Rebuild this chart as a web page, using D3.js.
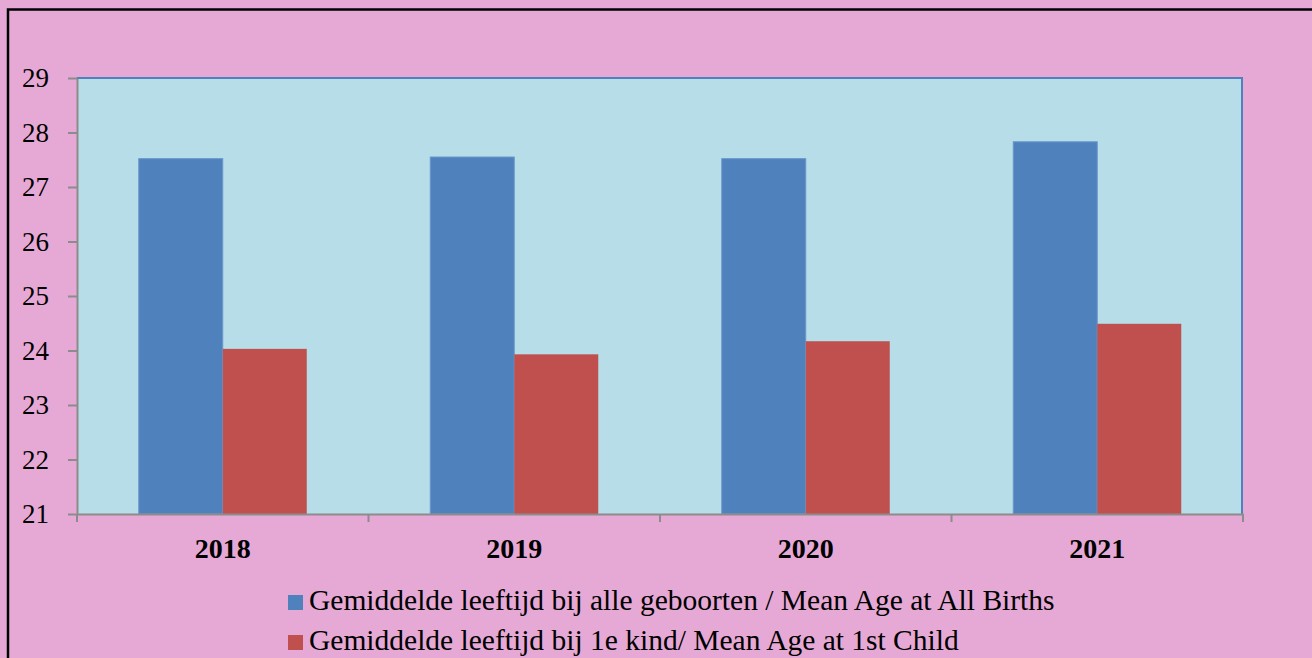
<!DOCTYPE html>
<html>
<head>
<meta charset="utf-8">
<script src="https://cdn.jsdelivr.net/npm/d3@7"></script>
<style>
  body { margin: 0; background: #fff; }
  text { font-family: "Liberation Serif", "Times New Roman", serif; }
</style>
</head>
<body>
<svg width="1312" height="658"></svg>
<script>
var years = ["2018", "2019", "2020", "2021"];
var allBirths = [27.52, 27.55, 27.52, 27.83];
var firstChild = [24.03, 23.93, 24.17, 24.49];
var seriesNames = [
  "Gemiddelde leeftijd bij alle geboorten / Mean Age at All Births",
  "Gemiddelde leeftijd bij 1e kind/ Mean Age at 1st Child"
];
var seriesColors = ["#4F81BD", "#C0504D"];
var yTicks = [21, 22, 23, 24, 25, 26, 27, 28, 29];

var svg = d3.select("svg");

// page background and frame
svg.append("rect")
  .attr("x", 0).attr("y", 0).attr("width", 1312).attr("height", 658)
  .attr("fill", "#E6A9D5");
svg.append("path")
  .attr("d", "M8,658 V9.5 H1312")
  .attr("fill", "none")
  .attr("stroke", "#000")
  .attr("stroke-width", 2.5);

var plotL = 77, plotR = 1243, plotT = 78, plotB = 514;

var x = d3.scaleBand().domain(years).range([plotL, plotR]);
var y = d3.scaleLinear().domain([21, 29]).range([plotB, plotT]);
var barW = 84;

// plot area
svg.append("rect")
  .attr("x", plotL).attr("y", plotT)
  .attr("width", plotR - plotL).attr("height", plotB - plotT)
  .attr("fill", "#B7DDE8");
svg.append("path")
  .attr("d", "M" + plotL + "," + plotT + " H" + (plotR - 1) + " V" + plotB)
  .attr("fill", "none")
  .attr("stroke", "#4F81BD")
  .attr("stroke-width", 2);

var data = years.map(function(yr, i) {
  return { year: yr, vals: [allBirths[i], firstChild[i]] };
});

var groups = svg.append("g").selectAll("g")
  .data(data)
  .enter().append("g");

groups.selectAll("rect")
  .data(function(d) { return d.vals.map(function(v, k) { return { year: d.year, v: v, k: k }; }); })
  .enter().append("rect")
    .attr("x", function(d) { return x(d.year) + x.bandwidth() / 2 - barW + d.k * barW; })
    .attr("y", function(d) { return y(d.v); })
    .attr("width", barW)
    .attr("height", function(d) { return y(21) - y(d.v); })
    .attr("fill", function(d) { return seriesColors[d.k]; })
    .attr("stroke", function(d) { return d.k == 0 ? "#6A97CB" : "none"; })
    .attr("stroke-width", 1);

// y axis
var yAxis = svg.append("g")
  .attr("transform", "translate(" + plotL + ",0)")
  .call(d3.axisLeft(y).tickValues(yTicks).tickSize(9).tickPadding(19).tickSizeOuter(0));
yAxis.select(".domain").attr("stroke", "#8C8C8C").attr("stroke-width", 2);
yAxis.selectAll(".tick line").attr("stroke", "#8C8C8C").attr("stroke-width", 2);
yAxis.selectAll("text")
  .attr("fill", "#000")
  .attr("dy", "0.33em")
  .style("font-size", "27px")
  .style("font-family", "'Liberation Serif', serif");

// x axis
var xAxis = svg.append("g")
  .attr("transform", "translate(0," + plotB + ")")
  .call(d3.axisBottom(x).tickSize(0).tickPadding(24).tickSizeOuter(0));
xAxis.select(".domain").attr("stroke", "#8C8C8C").attr("stroke-width", 2);
xAxis.selectAll("text")
  .attr("fill", "#000")
  .style("font-size", "28px")
  .style("font-weight", "bold")
  .style("font-family", "'Liberation Serif', serif");

svg.append("g").selectAll("line")
  .data(years.concat(["end"]))
  .enter().append("line")
    .attr("x1", function(d, i) { return plotL + i * x.bandwidth(); })
    .attr("x2", function(d, i) { return plotL + i * x.bandwidth(); })
    .attr("y1", plotB).attr("y2", plotB + 8)
    .attr("stroke", "#8C8C8C")
    .attr("stroke-width", 2);

// legend
var legend = svg.append("g").selectAll("g")
  .data(seriesNames)
  .enter().append("g")
    .attr("transform", function(d, i) { return "translate(288," + (595 + i * 40) + ")"; });

legend.append("rect")
  .attr("width", 15).attr("height", 15)
  .attr("fill", function(d, i) { return seriesColors[i]; });

legend.append("text")
  .attr("x", 21).attr("y", 15)
  .style("font-size", "29.5px")
  .attr("fill", "#000")
  .text(function(d) { return d; });
</script>
</body>
</html>
